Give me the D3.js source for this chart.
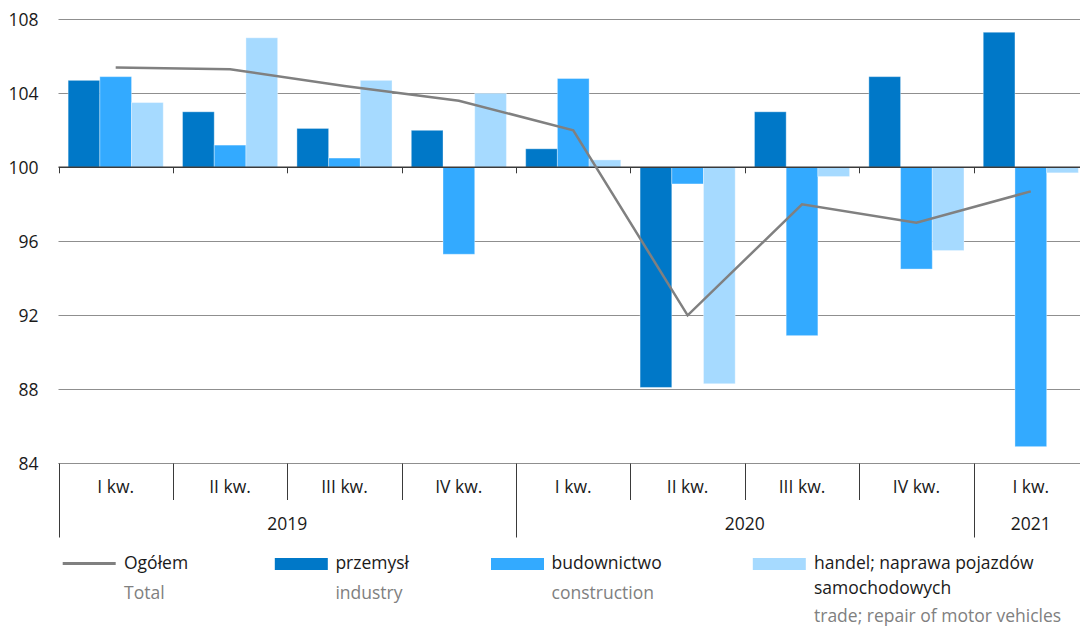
<!DOCTYPE html>
<html><head><meta charset="utf-8">
<script src="https://cdn.jsdelivr.net/npm/d3@7/dist/d3.min.js"></script>
<style>body{margin:0;background:#fff}svg{display:block;font-family:"Open Sans",sans-serif}</style>
</head><body><svg id="c" width="1080" height="626"></svg>
<script>
const quarters = ["I kw.","II kw.","III kw.","IV kw.","I kw.","II kw.","III kw.","IV kw.","I kw."];
const years = [{label:"2019", from:0, to:4},{label:"2020", from:4, to:8},{label:"2021", from:8, to:9}];
const industry     = [104.7, 103.0, 102.1, 102.0, 101.0, 88.1, 103.0, 104.9, 107.3];
const construction = [104.9, 101.2, 100.5,  95.3, 104.8, 99.1,  90.9,  94.5,  84.9];
const trade        = [103.5, 107.0, 104.7, 104.0, 100.4, 88.3,  99.5,  95.5,  99.7];
const total        = [105.4, 105.3, 104.4, 103.6, 102.0, 92.0,  98.0,  97.0,  98.7];
const yTicks = [84, 88, 92, 96, 100, 104, 108];

const seriesKeys = ["industry","construction","trade"];
const seriesData = {industry, construction, trade};
const colors = {industry:"#0078C8", construction:"#33AAFF", trade:"#A6DAFF"};
const FS = 17.5;

const svg = d3.select("#c");
const left = 58.5, right = 1088;
const idx = d3.range(quarters.length);
const x = d3.scaleBand().domain(idx).range([left, right]).padding(0);
const xs = d3.scaleBand().domain(seriesKeys).range([0, x.bandwidth()]).paddingInner(0).paddingOuter(0.304);
const y = d3.scaleLinear().domain([84, 108]).range([463.3, 19.3]);

// gridlines
svg.append("g").selectAll("line").data(yTicks.filter(t => t !== 100)).join("line")
  .attr("x1", left).attr("x2", 1080)
  .attr("y1", d => Math.round(y(d)) + 0.5).attr("y2", d => Math.round(y(d)) + 0.5)
  .attr("stroke", "#8f8f8f").attr("stroke-width", 1);

// y labels
svg.append("g").selectAll("text").data(yTicks).join("text")
  .attr("x", 38.5).attr("y", d => y(d)).attr("dy", "0.36em")
  .attr("text-anchor", "end").attr("font-size", FS).attr("fill", "#1a1a1a")
  .text(d => d);

// bars
const g = svg.append("g");
seriesKeys.forEach(k => {
  g.append("g").selectAll("rect").data(idx).join("rect")
    .attr("x", i => x(i) + xs(k))
    .attr("width", xs.bandwidth())
    .attr("y", i => y(Math.max(100, seriesData[k][i])))
    .attr("height", i => Math.abs(y(seriesData[k][i]) - y(100)))
    .attr("fill", colors[k])
    .attr("stroke", "#ffffff").attr("stroke-opacity", 0.35).attr("stroke-width", 1);
});

// zero line + ticks
svg.append("line").attr("x1", left).attr("x2", 1080).attr("y1", y(100)).attr("y2", y(100))
  .attr("stroke", "#3a3a3a").attr("stroke-width", 1.6);
svg.append("g").selectAll("line").data(idx).join("line")
  .attr("x1", i => Math.round(x(i)) + 0.5).attr("x2", i => Math.round(x(i)) + 0.5)
  .attr("y1", y(100)).attr("y2", y(100) + 6)
  .attr("stroke", "#3a3a3a").attr("stroke-width", 1);

// total line
svg.append("path").datum(total)
  .attr("d", d3.line().x((d, i) => x(i) + x.bandwidth() / 2).y(d => y(d)))
  .attr("fill", "none").attr("stroke", "#808080").attr("stroke-width", 2.5);

// bottom axis
const by = Math.round(y(84)) + 0.5;
svg.append("line").attr("x1", left).attr("x2", 1080).attr("y1", by).attr("y2", by)
  .attr("stroke", "#8f8f8f").attr("stroke-width", 1);
const yearBounds = new Set(years.map(d => d.from));
svg.append("g").selectAll("line").data(idx).join("line")
  .attr("x1", i => Math.round(x(i)) + 0.5).attr("x2", i => Math.round(x(i)) + 0.5)
  .attr("y1", by).attr("y2", i => yearBounds.has(i) ? 537.5 : 500)
  .attr("stroke", "#3a3a3a").attr("stroke-width", 1);
svg.append("g").selectAll("text").data(idx).join("text")
  .attr("x", i => x(i) + x.bandwidth() / 2).attr("y", 487).attr("dy", "0.36em")
  .attr("text-anchor", "middle").attr("font-size", FS).attr("fill", "#1a1a1a")
  .text(i => quarters[i]);
svg.append("g").selectAll("text").data(years).join("text")
  .attr("x", d => (x(d.from) + (d.to < quarters.length ? x(d.to) : right)) / 2)
  .attr("y", 523.5).attr("dy", "0.36em")
  .attr("text-anchor", "middle").attr("font-size", FS).attr("fill", "#1a1a1a")
  .text(d => d.label);

// legend
const legendItems = [
  {type:"line", color:"#808080", sx:62.7, tx:124, pl:["Ogółem"], en:"Total"},
  {type:"rect", color:colors.industry, sx:274.8, tx:335.4, pl:["przemysł"], en:"industry"},
  {type:"rect", color:colors.construction, sx:491, tx:551.6, pl:["budownictwo"], en:"construction"},
  {type:"rect", color:colors.trade, sx:752.8, tx:814, pl:["handel; naprawa pojazdów","samochodowych"], en:"trade; repair of motor vehicles"}
];
const lg = svg.append("g");
legendItems.forEach(it => {
  if (it.type === "line") {
    lg.append("line").attr("x1", it.sx).attr("x2", it.sx + 53).attr("y1", 563.5).attr("y2", 563.5)
      .attr("stroke", it.color).attr("stroke-width", 3);
  } else {
    lg.append("rect").attr("x", it.sx).attr("y", 558).attr("width", 53).attr("height", 12).attr("fill", it.color);
  }
  it.pl.forEach((t, j) => {
    lg.append("text").attr("x", it.tx).attr("y", 563 + j * 24.5).attr("dy", "0.36em")
      .attr("font-size", FS).attr("fill", "#1a1a1a").text(t);
  });
  lg.append("text").attr("x", it.tx).attr("y", it.pl.length > 1 ? 616 : 592.5).attr("dy", "0.36em")
    .attr("font-size", FS).attr("fill", "#808080").text(it.en);
});
</script></body></html>
